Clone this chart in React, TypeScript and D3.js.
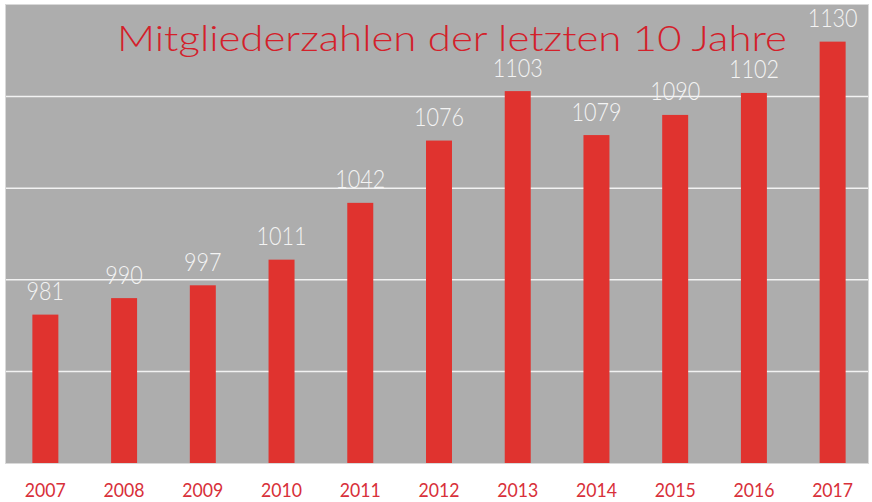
import React from "react";
import * as d3 from "d3";

const years = ["2007", "2008", "2009", "2010", "2011", "2012", "2013", "2014", "2015", "2016", "2017"];
const members = [981, 990, 997, 1011, 1042, 1076, 1103, 1079, 1090, 1102, 1130];
const gridValues = [950, 1000, 1050, 1100];
const title = "Mitgliederzahlen der letzten 10 Jahre";

export default function App() {
  const W = 872, H = 502;
  const plot = { left: 6, right: 868, top: 5, bottom: 463 };
  const x = d3.scaleBand<string>().domain(years).range([6, 872]).paddingInner(0.67).paddingOuter(0.335);
  const y = d3.scaleLinear().domain([900, 1150]).range([plot.bottom, plot.top]);
  const font = "Lato, 'DejaVu Sans', sans-serif";
  return (
    <svg width={W} height={H} style={{ position: "absolute", left: 0, top: 0 }}>
      <rect x={0} y={0} width={W} height={H} fill="#ffffff" />
      <rect x={plot.left - 0.5} y={plot.top - 0.5} width={plot.right - plot.left + 1} height={plot.bottom - plot.top + 1} fill="none" stroke="#d9d9d9" />
      <rect x={plot.left} y={plot.top} width={plot.right - plot.left} height={plot.bottom - plot.top} fill="#adadad" />
      {gridValues.map((g) => (
        <line key={g} x1={plot.left} x2={plot.right} y1={y(g)} y2={y(g)} stroke="#f2f2f2" strokeWidth={1.5} />
      ))}
      {years.map((yr, i) => (
        <rect key={yr} x={x(yr)} y={y(members[i])} width={x.bandwidth()} height={plot.bottom - y(members[i])} fill="#e0332f" />
      ))}
      {years.map((yr, i) => {
        const t = String(members[i]);
        return (
          <text key={"v" + yr} x={(x(yr) as number) + x.bandwidth() / 2} y={y(members[i]) - 14.5} textAnchor="middle"
            fontFamily={font} fontWeight={300} fontSize={26} fill="#f4f4f4"
            textLength={12.5 * t.length} lengthAdjust="spacingAndGlyphs">{t}</text>
        );
      })}
      {years.map((yr) => (
        <text key={"x" + yr} x={(x(yr) as number) + x.bandwidth() / 2} y={497} textAnchor="middle"
          fontFamily={font} fontSize={19} fill="#d8303a" textLength={41} lengthAdjust="spacingAndGlyphs">{yr}</text>
      ))}
      <text x={117} y={51} fontFamily={font} fontWeight={300} fontSize={36} fill="#d4202a"
        textLength={670} lengthAdjust="spacingAndGlyphs">{title}</text>
    </svg>
  );
}
